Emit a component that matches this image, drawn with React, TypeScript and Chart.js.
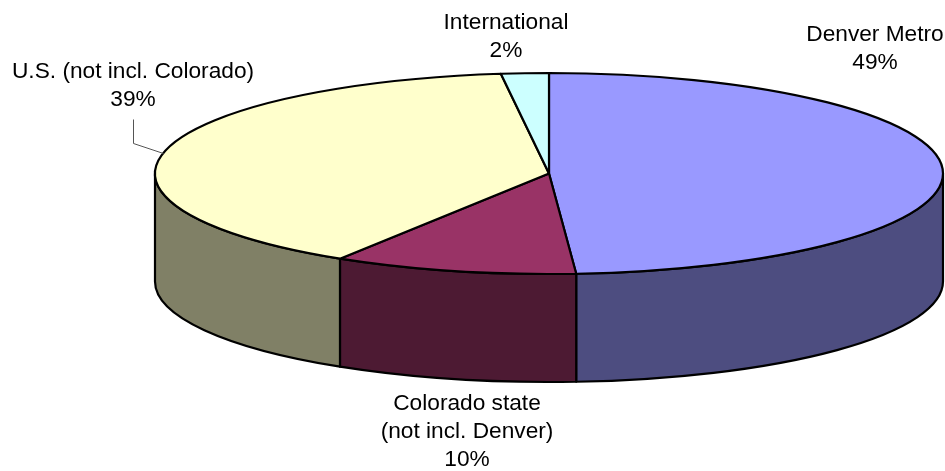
import React, { useEffect, useRef } from "react";
import { Chart, registerables } from "chart.js";

Chart.register(...registerables);

const categories = ["Denver Metro", "Colorado state", "U.S. (not incl. Colorado)", "International"];
const shares = [48.9, 10.0, 39.15, 1.95];
const topColors = ["#9999FF", "#993366", "#FFFFCC", "#CCFFFF"];
const sideColors = ["#4D4D80", "#4D1A33", "#808066", "#668080"];

const labelLines = [
  ["Denver Metro"],
  ["Colorado state", "(not incl. Denver)"],
  ["U.S. (not incl. Colorado)"],
  ["International"],
];
const labelAnchors = [
  { x: 875, y: 34.5 },
  { x: 467, y: 404 },
  { x: 133, y: 71.5 },
  { x: 506, y: 22.5 },
];
const leader = [
  [133, 119],
  [133, 143],
  [163, 153],
];
const WALL_DEPTH = 108;
const LINE_HEIGHT = 28;

const pie3d = {
  id: "pie3d",
  beforeDatasetDraw(chart: any) {
    const { ctx, chartArea } = chart;
    const arcs = chart.getDatasetMeta(0).data;
    const aspect = chartArea.width / chartArea.height;
    ctx.save();
    ctx.lineWidth = 2.2;
    ctx.strokeStyle = "#000";
    ctx.lineJoin = "round";
    arcs.forEach((arc: any, i: number) => {
      const a = Math.max(arc.startAngle, 0);
      const b = Math.min(arc.endAngle, Math.PI);
      if (b <= a) return;
      const rx = arc.outerRadius * aspect;
      const ry = arc.outerRadius;
      ctx.beginPath();
      ctx.ellipse(arc.x, arc.y, rx, ry, 0, a, b);
      ctx.ellipse(arc.x, arc.y + WALL_DEPTH, rx, ry, 0, b, a, true);
      ctx.closePath();
      ctx.fillStyle = sideColors[i];
      ctx.fill();
      ctx.stroke();
    });
    arcs.forEach((arc: any, i: number) => {
      const rx = arc.outerRadius * aspect;
      const ry = arc.outerRadius;
      ctx.beginPath();
      ctx.moveTo(arc.x, arc.y);
      ctx.ellipse(arc.x, arc.y, rx, ry, 0, arc.startAngle, arc.endAngle);
      ctx.closePath();
      ctx.fillStyle = topColors[i];
      ctx.fill();
      ctx.stroke();
    });
    ctx.restore();
    return false;
  },
  afterDraw(chart: any) {
    const { ctx } = chart;
    ctx.save();
    ctx.strokeStyle = "#555";
    ctx.lineWidth = 1;
    ctx.beginPath();
    leader.forEach(([x, y], i) => (i ? ctx.lineTo(x + 0.5, y + 0.5) : ctx.moveTo(x + 0.5, y + 0.5)));
    ctx.stroke();
    ctx.fillStyle = "#000";
    ctx.font = '22.7px "Liberation Sans", Arial, sans-serif';
    ctx.textAlign = "center";
    ctx.textBaseline = "middle";
    shares.forEach((v, i) => {
      const lines = [...labelLines[i], `${Math.round(v)}%`];
      lines.forEach((t, k) => {
        ctx.fillText(t, labelAnchors[i].x, labelAnchors[i].y + k * LINE_HEIGHT);
      });
    });
    ctx.restore();
  },
};

export default function App() {
  const ref = useRef<HTMLCanvasElement>(null);
  useEffect(() => {
    const chart = new Chart(ref.current!, {
      type: "pie",
      data: {
        labels: categories,
        datasets: [{ data: shares, backgroundColor: topColors, borderWidth: 0, hoverOffset: 0 }],
      },
      options: {
        animation: false,
        responsive: false,
        events: [],
        layout: { padding: { left: 155, right: 2, top: 73, bottom: 197 } },
        plugins: { legend: { display: false }, tooltip: { enabled: false }, title: { display: false } },
      },
      plugins: [pie3d as any],
    });
    return () => chart.destroy();
  }, []);
  return (
    <canvas
      ref={ref}
      width={945}
      height={471}
      style={{ position: "absolute", left: 0, top: 0, display: "block", background: "#fff" }}
    />
  );
}
